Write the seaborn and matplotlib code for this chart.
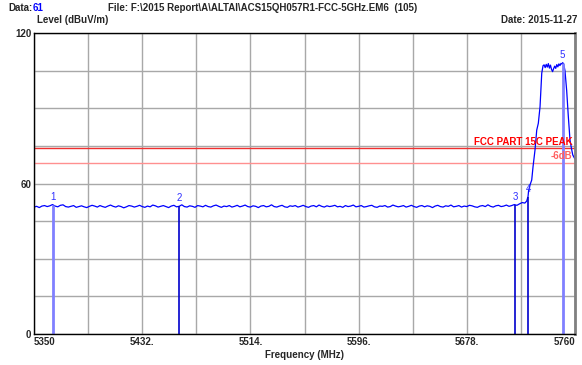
import numpy as np
import pandas as pd
import matplotlib
matplotlib.use("Agg")
import matplotlib.pyplot as plt
import seaborn as sns

# noise floor sweep, 5350..5716 MHz in 2 MHz steps
noise_start = 5350
noise_step = 2
noise_level = [
    50.6, 50.9, 50.4, 51.0, 51.2, 50.8, 51.1, 51.6, 51.0, 50.7, 51.3, 51.5, 50.8, 50.6, 50.9, 51.2, 50.5, 50.8, 51.1, 50.7,
    50.4, 50.9, 51.3, 51.0, 50.6, 51.2, 50.8, 50.5, 51.0, 51.4, 50.9, 50.6, 51.1, 50.8, 50.3, 50.7, 51.2, 51.0, 50.6, 50.9,
    51.3, 50.8, 50.5, 51.0, 50.7, 51.4, 51.1, 50.6, 50.9, 51.2, 50.8, 50.4, 51.0, 51.3, 50.7, 50.9, 51.5, 50.8, 50.6, 51.1,
    50.9, 50.5, 51.2, 51.0, 50.7, 51.3, 50.8, 50.6, 51.1, 51.4, 50.9, 50.5, 51.0, 50.8, 51.2, 50.6, 50.9, 51.3, 50.7, 51.0,
    51.4, 50.8, 50.6, 51.1, 50.9, 50.4, 51.0, 51.2, 50.7, 50.9, 51.5, 50.8, 50.6, 51.0, 51.3, 50.7, 50.5, 51.1, 50.9, 51.2,
    50.6, 50.9, 51.3, 50.8, 50.5, 51.0, 51.2, 50.7, 51.4, 50.9, 50.6, 51.1, 50.8, 51.0, 51.3, 50.7, 50.9, 50.5, 51.2, 50.8,
    51.0, 51.4, 50.7, 50.9, 51.2, 50.6, 50.8, 51.1, 51.3, 50.7, 50.5, 51.0, 50.9, 51.2, 50.6, 50.8, 51.4, 51.0, 50.7, 50.9,
    51.2, 50.6, 50.9, 51.3, 50.8, 50.5, 51.0, 51.2, 50.7, 51.1, 50.9, 50.4, 51.0, 51.3, 50.8, 50.6, 51.1, 50.9, 51.4, 50.7,
    50.9, 51.2, 50.6, 51.0, 50.8, 51.3, 51.1, 50.7, 50.5, 51.0, 51.2, 50.8, 51.5, 50.9, 50.6, 51.1, 51.3, 50.8, 51.0, 51.4,
    50.9, 51.2, 51.6, 51.3,
]

# band edge and carrier
band_freq = [5718, 5720, 5722, 5723.4, 5724.4, 5724.8, 5725.9, 5727.2, 5728.2, 5729.7, 5731, 5732.2, 5733.5,
             5734.8, 5735.8, 5736.6, 5737.4, 5738.2, 5739, 5739.8, 5740.6, 5741.4, 5742.2, 5743, 5743.8,
             5744.6, 5745.4, 5746.2, 5747, 5747.8, 5748.6, 5749.4, 5750.2, 5750.7, 5751.5, 5752.4, 5753.7,
             5754.9, 5756.2, 5757.3, 5758.3, 5759.5, 5760]
band_level = [51.9, 52.4, 52.2, 53.0, 54.8, 57.0, 59.4, 61.4, 66.7, 73.4, 81.3, 84.0, 90.6,
              104.0, 107.0, 107.3, 106.2, 107.5, 106.4, 107.8, 106.0, 107.2, 105.5, 104.6, 105.8,
              106.8, 105.9, 107.4, 106.5, 107.7, 107.0, 107.9, 107.6, 108.2, 107.4, 105.0, 97.0,
              87.0, 77.4, 74.0, 71.4, 70.2, 69.8]

marker_no = ["1", "2", "3", "4", "5"]
marker_freq = [5364.4, 5460.0, 5714.5, 5724.4, 5750.7]
marker_level = [51.6, 50.9, 51.6, 54.8, 108.2]

limit_peak = 74
limit_minus6 = 68

xtick_vals = [5350, 5391, 5432, 5473, 5514, 5555, 5596, 5637, 5678, 5719, 5760]
xtick_text = ["5350", "", "5432.", "", "5514.", "", "5596.", "", "5678.", "", "5760"]
ytick_vals = [0, 15, 30, 45, 60, 75, 90, 105, 120]
ytick_text = ["0", "", "", "", "60", "", "", "", "120"]

noise_freq = noise_start + noise_step * np.arange(len(noise_level))
df = pd.DataFrame({
    "freq": np.concatenate([noise_freq, band_freq]),
    "level": np.concatenate([noise_level, band_level]),
})

sns.set_style("white")
plt.rcParams["font.family"] = ["Liberation Sans", "DejaVu Sans"]
plt.rcParams["font.weight"] = "bold"

fig = plt.figure(figsize=(5.82, 3.65), dpi=100)
ax = fig.add_axes([34 / 582, 31 / 365, 541 / 582, 301 / 365])

ax.set_xlim(5350, 5760)
ax.set_ylim(0, 120)
ax.set_xticks(xtick_vals)
ax.set_xticklabels(xtick_text)
ax.set_yticks(ytick_vals)
ax.set_yticklabels(ytick_text)
ax.grid(True, color="#a8a8a8", lw=1)
ax.tick_params(length=0, labelsize=7, pad=2)
lbls = ax.get_xticklabels()
lbls[0].set_ha("left")
lbls[-1].set_ha("right")

for s in ["left", "bottom", "top"]:
    ax.spines[s].set_color("black")
    ax.spines[s].set_linewidth(1)
ax.spines["right"].set_color("#808080")
ax.spines["right"].set_linewidth(2)

ax.axhline(limit_peak, color="#f03030", lw=1)
ax.axhline(limit_minus6, color="#ff9090", lw=1)

sns.lineplot(data=df, x="freq", y="level", ax=ax, color="#0000ff", lw=0.9, sort=False)

line_cols = ["#8080ff", "#0000cc", "#0000cc", "#0000cc", "#8080ff"]
line_w = [2, 1.2, 1.2, 1.2, 2]
for n, f, l, c, w in zip(marker_no, marker_freq, marker_level, line_cols, line_w):
    ax.vlines(f, 0, l, colors=c, lw=w)
    ax.text(f, l + 1.2, n, color="#3030ff", fontsize=7, fontweight="normal", ha="center", va="bottom")

ax.text(5758, limit_peak + 0.6, "FCC PART 15C PEAK", color="#ff0000", fontsize=7,
        fontweight="bold", ha="right", va="bottom")
ax.text(5758, 70.8, "-6dB", color="#ff6060", fontsize=7, fontweight="bold", ha="right", va="center")

ax.set_xlabel("Frequency (MHz)", fontsize=7, fontweight="bold", labelpad=2)
ax.set_ylabel("")

fig.text(8 / 582, 1 - 8 / 365, "Data:", fontsize=7, fontweight="bold", va="center", ha="left")
fig.text(33 / 582, 1 - 8 / 365, "61", fontsize=7, fontweight="bold", color="#0000ff", va="center", ha="left")
fig.text(108 / 582, 1 - 8 / 365, "File: F:\\2015 Report\\A\\ALTAI\\ACS15QH057R1-FCC-5GHz.EM6  (105)",
         fontsize=7, fontweight="bold", va="center", ha="left")
fig.text(37 / 582, 1 - 20 / 365, "Level (dBuV/m)", fontsize=7, fontweight="bold", va="center", ha="left")
fig.text(577 / 582, 1 - 20 / 365, "Date: 2015-11-27", fontsize=7, fontweight="bold", va="center", ha="right")

fig.savefig("out.png", dpi=100, facecolor="white")
